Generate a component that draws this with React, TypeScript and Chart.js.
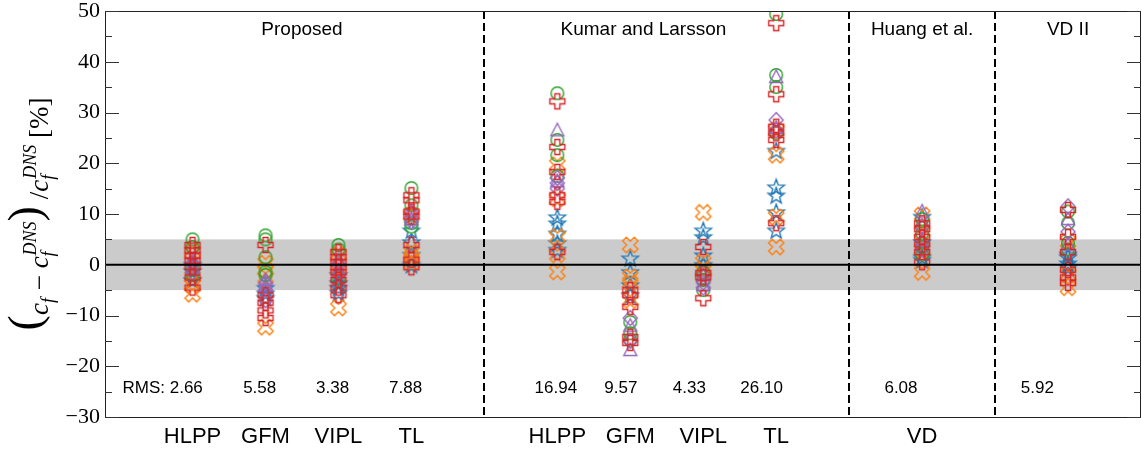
import React, { useEffect, useRef } from "react";
import { Chart, registerables } from "chart.js";

Chart.register(...registerables);

// ---------- data ----------
const groupNames = ["Proposed", "Kumar and Larsson", "Huang et al.", "VD II"];
const groupSizes = [4, 4, 1, 1];
const categoryLabels = ["HLPP", "GFM", "VIPL", "TL", "HLPP", "GFM", "VIPL", "TL", "VD", ""];
const rmsLabels = ["RMS: 2.66", "5.58", "3.38", "7.88", "16.94", "9.57", "4.33", "26.10", "6.08", "5.92"];
const bandLow = -5;
const bandHigh = 5;
const yMin = -30;
const yMax = 50;

// one inner list per column (10 columns)
const starBlue = [
  [0.0, -1.2, -3.0],
  [-4.5, -5.6, -6.5],
  [-3.6, -4.5, -5.5, -2.0],
  [6.8, 4.5, 2.0, 0.0],
  [9.4, 8.2, 6.2, 4.3, 3.0],
  [1.3, -1.4, -4.0, -6.0],
  [6.8, 5.5, 1.9, 0.0],
  [15.3, 13.7, 10.4, 6.8, 22.5],
  [9.5, 4.5, 1.5, 1.0],
  [1.5, 0.3, -0.5, 2.0],
];
const xOrange = [
  [2.5, -2.4, -4.0, -5.8],
  [0.3, -1.0, -2.5, -12.3],
  [2.0, -1.0, -8.5],
  [9.8, 2.5, 1.5, 0.5],
  [19.7, 13.0, 5.5, 2.0, -1.4],
  [3.9, -2.4, -3.5, -7.0],
  [10.3, 0.5, -1.0],
  [26.5, 21.6, 9.4, 3.5],
  [9.8, 6.5, 3.0, -1.5],
  [4.5, -2.0, -4.5],
];
const circleGreen = [
  [5.0, 3.5, -1.0, -2.0],
  [5.8, 5.0, 1.5, -1.4, -2.0],
  [3.9, 3.0, -2.6],
  [15.1, 11.7, 8.2, 7.5],
  [33.8, 24.6, 21.6, 17.5],
  [-11.3, -13.5, -14.8],
  [-1.5, -3.0, -5.0],
  [49.4, 37.4, 35.0, 26.0],
  [9.0, 6.2, 3.5, 2.0],
  [10.5, 8.2, 4.3, 3.0],
];
const plusRed = [
  [3.9, 2.8, 1.8, 0.8, -0.5, -2.5, -4.5],
  [3.9, -6.0, -7.5, -9.0, -10.5],
  [2.5, 1.5, 0.5, -0.5, -1.5, -3.0, -4.5, -6.0],
  [13.7, 12.7, 10.5, 9.5, 3.9, 1.0, -0.5],
  [32.2, 23.2, 18.3, 13.7, 12.4, 2.5],
  [-5.0, -6.0, -8.3, -14.2, -15.4],
  [3.5, -1.6, -2.5, -6.6],
  [47.6, 33.6, 27.2, 25.9, 24.6, 8.2],
  [8.2, 7.0, 5.5, 4.0, 2.5, 0.5],
  [10.8, 5.5, 2.5, -1.0, -2.5, -3.6],
];
const trianglePurple = [
  [1.0, -0.5],
  [-3.0, -4.0],
  [1.0, -1.0],
  [10.5, 9.0],
  [26.5, 16.5],
  [-12.0, -16.8],
  [-2.0, -4.0],
  [37.0, 27.0],
  [10.5, 5.0],
  [9.0, 4.0],
];
const diamondPurple = [
  [0.3, -1.5],
  [-3.6, -5.0, -7.0],
  [0.0, -2.0],
  [10.2, 8.5],
  [17.1, 16.1, 15.0],
  [-10.5, -15.0],
  [-3.5, -4.5],
  [28.5, 26.5],
  [7.5, 3.0],
  [11.5, 6.5],
];

// ---------- layout (not data) ----------
const titleShift = [0, -0.32, 0, 0];
const rmsPos = [-0.41, 0.92, 1.92, 2.92, 4.98, 5.87, 6.81, 7.8, 9.71, 11.58];

const colX: number[] = [];
const sepX: number[] = [];
const groupCenter: number[] = [];
(() => {
  let pos = 0;
  groupSizes.forEach((n, g) => {
    const start = pos;
    for (let i = 0; i < n; i++) colX.push(pos++);
    groupCenter.push((start + pos - 1) / 2);
    if (g < groupSizes.length - 1) {
      sepX.push(pos);
      pos++;
    }
  });
})();

const COLORS = {
  blue: "#1f77b4",
  orange: "#ff7f0e",
  green: "#2ca02c",
  red: "#d62728",
  purple: "#9467bd",
};

function makeMarker(shape: string, color: string): HTMLCanvasElement {
  const S = 24;
  const c = document.createElement("canvas");
  c.width = S;
  c.height = S;
  const g = c.getContext("2d")!;
  g.translate(S / 2, S / 2);
  g.strokeStyle = color;
  g.lineWidth = 1.4;
  g.lineJoin = "miter";
  g.beginPath();
  const poly = (pts: number[][], rot = 0) => {
    const cs = Math.cos(rot), sn = Math.sin(rot);
    pts.forEach(([px, py], i) => {
      const X = px * cs - py * sn;
      const Y = px * sn + py * cs;
      if (i === 0) g.moveTo(X, Y);
      else g.lineTo(X, Y);
    });
    g.closePath();
  };
  const plusPts = (a: number, b: number) => [
    [-b, -a], [b, -a], [b, -b], [a, -b], [a, b], [b, b],
    [b, a], [-b, a], [-b, b], [-a, b], [-a, -b], [-b, -b],
  ];
  if (shape === "circle") {
    g.arc(0, 0, 6.3, 0, Math.PI * 2);
  } else if (shape === "plus") {
    poly(plusPts(7.5, 2.5));
  } else if (shape === "x") {
    poly(plusPts(8.2, 2.6), Math.PI / 4);
  } else if (shape === "star") {
    const pts: number[][] = [];
    for (let k = 0; k < 10; k++) {
      const r = k % 2 === 0 ? 8.5 : 8.5 * 0.42;
      const ang = -Math.PI / 2 + (k * Math.PI) / 5;
      pts.push([r * Math.cos(ang), r * Math.sin(ang) + 0.8]);
    }
    poly(pts);
  } else if (shape === "triangle") {
    poly([[0, -7], [6.5, 5.5], [-6.5, 5.5]]);
  } else if (shape === "diamond") {
    poly([[0, -7.5], [7, 0], [0, 7.5], [-7, 0]]);
  }
  g.stroke();
  return c;
}

function fmtTick(v: number): string {
  return v < 0 ? "\u2212" + Math.abs(v) : String(v);
}

function drawYLabel(ctx: CanvasRenderingContext2D, cx: number, cy: number) {
  const it = (s: number) => `italic ${s}px 'Liberation Serif'`;
  const rm = (s: number) => `${s}px 'Liberation Serif'`;
  const M = 27, S = 18, P = 46;
  type Piece = { t?: string; f: string; dy?: number; sub?: string; sup?: string };
  const pieces: Piece[] = [
    { t: "(", f: rm(P), dy: -8 },
    { t: "c", f: it(M) },
    { sub: "f", sup: "", f: it(S) },
    { t: " \u2212 ", f: rm(M) },
    { t: "c", f: it(M) },
    { sub: "f", sup: "DNS", f: it(S) },
    { t: ")", f: rm(P), dy: -8 },
    { t: " /", f: rm(M) },
    { t: "c", f: it(M) },
    { sub: "f", sup: "DNS", f: it(S) },
    { t: " [%]", f: rm(M) },
  ];
  const widths = pieces.map((p) => {
    ctx.font = p.f;
    if (p.t !== undefined) return ctx.measureText(p.t).width;
    return Math.max(ctx.measureText(p.sub || "").width, ctx.measureText(p.sup || "").width) + 1;
  });
  const total = widths.reduce((a, b) => a + b, 0);
  ctx.save();
  ctx.translate(cx, cy);
  ctx.rotate(-Math.PI / 2);
  ctx.fillStyle = "#000";
  ctx.textBaseline = "alphabetic";
  ctx.textAlign = "left";
  let x = -total / 2;
  pieces.forEach((p, i) => {
    ctx.font = p.f;
    if (p.t !== undefined) {
      ctx.fillText(p.t, x, p.dy || 0);
    } else {
      if (p.sub) ctx.fillText(p.sub, x, 6);
      if (p.sup) ctx.fillText(p.sup, x + 1, -12);
    }
    x += widths[i];
  });
  ctx.restore();
}

const decor = {
  id: "decor",
  beforeDatasetsDraw(chart: any) {
    const { ctx, chartArea: a, scales } = chart;
    const x = scales.x, y = scales.y;
    ctx.save();
    const yHi = y.getPixelForValue(bandHigh);
    const yLo = y.getPixelForValue(bandLow);
    ctx.fillStyle = "#cbcbcb";
    ctx.fillRect(a.left, yHi, a.right - a.left, yLo - yHi);
    ctx.strokeStyle = "#000";
    ctx.lineWidth = 2;
    ctx.setLineDash([8, 4]);
    sepX.forEach((s) => {
      const px = Math.round(x.getPixelForValue(s));
      ctx.beginPath();
      ctx.moveTo(px, a.top);
      ctx.lineTo(px, a.bottom);
      ctx.stroke();
    });
    ctx.restore();
  },
  afterDatasetsDraw(chart: any) {
    const { ctx, chartArea: a, scales } = chart;
    const x = scales.x, y = scales.y;
    ctx.save();
    // zero line
    const y0 = y.getPixelForValue(0);
    ctx.strokeStyle = "#000";
    ctx.lineWidth = 2;
    ctx.beginPath();
    ctx.moveTo(a.left, y0);
    ctx.lineTo(a.right, y0);
    ctx.stroke();
    // spines
    ctx.lineWidth = 1;
    ctx.strokeStyle = "#222";
    ctx.beginPath();
    ctx.moveTo(a.left + 0.5, a.top);
    ctx.lineTo(a.left + 0.5, a.bottom + 0.5);
    ctx.moveTo(a.left, a.top + 0.5);
    ctx.lineTo(a.right, a.top + 0.5);
    ctx.moveTo(a.left, a.bottom + 0.5);
    ctx.lineTo(a.right, a.bottom + 0.5);
    ctx.moveTo(a.right - 0.5, a.top);
    ctx.lineTo(a.right - 0.5, a.bottom);
    ctx.stroke();
    // ticks (inward, both sides)
    ctx.strokeStyle = "#333";
    ctx.beginPath();
    for (let v = yMin; v <= yMax; v += 5) {
      const py = Math.round(y.getPixelForValue(v)) + 0.5;
      const len = v % 10 === 0 ? 14 : 7;
      ctx.moveTo(a.left, py);
      ctx.lineTo(a.left + len, py);
      ctx.moveTo(a.right, py);
      ctx.lineTo(a.right - len, py);
    }
    ctx.stroke();
    // group titles
    ctx.fillStyle = "#000";
    ctx.textAlign = "center";
    ctx.textBaseline = "alphabetic";
    ctx.font = "19px 'Liberation Sans'";
    groupNames.forEach((n, i) => {
      ctx.fillText(n, x.getPixelForValue(groupCenter[i] + titleShift[i]), 35);
    });
    // RMS labels
    ctx.font = "17px 'Liberation Sans'";
    rmsLabels.forEach((t, i) => {
      ctx.fillText(t, x.getPixelForValue(rmsPos[i]), 393);
    });
    // category labels
    ctx.font = "22px 'Liberation Sans'";
    categoryLabels.forEach((t, i) => {
      if (t) ctx.fillText(t, x.getPixelForValue(colX[i]), 443);
    });
    ctx.restore();
    drawYLabel(ctx, 48, (a.top + a.bottom) / 2);
  },
};

export default function App() {
  const ref = useRef<HTMLCanvasElement | null>(null);
  useEffect(() => {
    if (!ref.current) return;
    const series = [
      { values: plusRed, marker: makeMarker("plus", COLORS.red) },
      { values: diamondPurple, marker: makeMarker("diamond", COLORS.purple) },
      { values: trianglePurple, marker: makeMarker("triangle", COLORS.purple) },
      { values: circleGreen, marker: makeMarker("circle", COLORS.green) },
      { values: xOrange, marker: makeMarker("x", COLORS.orange) },
      { values: starBlue, marker: makeMarker("star", COLORS.blue) },
    ];
    const datasets = series.map((s) => ({
      data: s.values.flatMap((col, i) => col.map((v) => ({ x: colX[i], y: v }))),
      pointStyle: s.marker as any,
      pointRadius: 8,
      showLine: false,
    }));
    const chart = new Chart(ref.current, {
      type: "scatter",
      data: { datasets: datasets as any },
      options: {
        animation: false,
        responsive: false,
        devicePixelRatio: 1,
        events: [],
        layout: { padding: { left: 0, top: 11, right: 4, bottom: 33 } },
        plugins: { legend: { display: false }, tooltip: { enabled: false } },
        scales: {
          x: { type: "linear", min: -1.2, max: 13, display: false },
          y: {
            type: "linear",
            min: yMin,
            max: yMax,
            position: "left",
            grid: { display: false, drawTicks: false },
            border: { display: false },
            ticks: {
              stepSize: 10,
              padding: 5,
              color: "#000",
              font: { family: "'Liberation Serif', serif", size: 22 },
              callback: (v: any) => fmtTick(Number(v)),
            },
            afterFit: (s: any) => {
              s.width = 105;
              s.paddingTop = 0;
              s.paddingBottom = 0;
            },
          },
        },
      },
      plugins: [decor],
    });
    return () => chart.destroy();
  }, []);
  return (
    <div style={{ position: "fixed", left: 0, top: 0, width: 1142, height: 450, overflow: "hidden", background: "#fff" }}>
      <canvas ref={ref} width={1150} height={450} style={{ display: "block" }} />
    </div>
  );
}
